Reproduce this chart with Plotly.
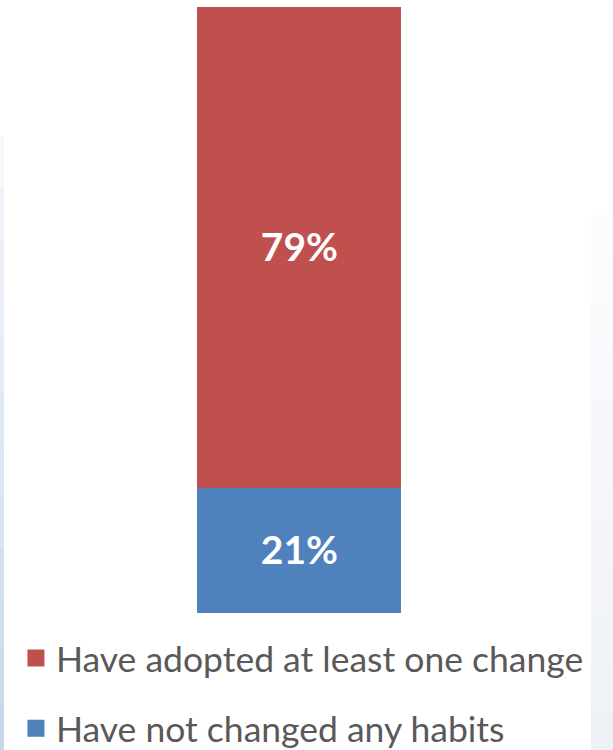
import plotly.graph_objects as go

categories = [""]
series_names = ["Have not changed any habits", "Have adopted at least one change"]
series_values = [[21], [79]]
series_labels = [["21%"], ["79%"]]
series_colors = ["#4F81BD", "#C0504D"]
legend_ranks = [2, 1]

fig = go.Figure()
for name, vals, labs, col, rank in zip(series_names, series_values, series_labels, series_colors, legend_ranks):
    fig.add_trace(go.Bar(
        x=categories, y=vals, name=name, text=labs,
        textposition="inside", insidetextanchor="middle",
        textfont=dict(family="Lato", size=39, color="white", weight="bold"),
        marker=dict(color=col, line=dict(width=5, color=col)),
        legendgroup=name, legendrank=rank, width=0.5,
    ))

W, H = 613, 750
TOP, BOT = 7, 613
fig.update_layout(
    width=W, height=H, barmode="stack", bargap=0,
    margin=dict(l=0, r=0, t=TOP, b=H - BOT, autoexpand=False),
    paper_bgcolor="white", plot_bgcolor="rgba(0,0,0,0)",
    xaxis=dict(visible=False, range=[-0.5, 0.5], domain=[0.1655, 0.8145]),
    yaxis=dict(visible=False, range=[0, 100]),
    showlegend=True,
    legend=dict(
        xref="container", yref="container",
        x=0.026, y=1 - 628.5 / H, xanchor="left", yanchor="top",
        orientation="v", traceorder="grouped", tracegroupgap=21,
        font=dict(family="Lato", size=35.5, color="#595959"),
        bgcolor="rgba(0,0,0,0)",
    ),
)


def py(p):
    return (BOT - p) / (BOT - TOP)


# subtle slide-background edges (decoration)
def hexmix(c1, c2, t):
    a = [int(c1[i:i + 2], 16) for i in (1, 3, 5)]
    b = [int(c2[i:i + 2], 16) for i in (1, 3, 5)]
    return "#" + "".join(f"{round(a[k] + (b[k] - a[k]) * t):02x}" for k in range(3))


n = 12
for k in range(n):
    y0p = 137 + (750 - 137) * k / n
    y1p = 137 + (750 - 137) * (k + 1) / n
    fig.add_shape(type="rect", xref="paper", yref="paper", x0=0, x1=4 / W,
                  y0=py(y1p), y1=py(y0p), fillcolor=hexmix("#f6f8fc", "#c6d6ea", (k + 0.5) / n),
                  line_width=0, layer="below")
    y0p = 215 + (750 - 215) * k / n
    y1p = 215 + (750 - 215) * (k + 1) / n
    fig.add_shape(type="rect", xref="paper", yref="paper", x0=591 / W, x1=1,
                  y0=py(y1p), y1=py(y0p), fillcolor=hexmix("#fdfdfe", "#edf0f6", (k + 0.5) / n),
                  line_width=0, layer="below")

fig.write_html("out.html", config={"displayModeBar": False},
               post_script="document.body.style.margin='0px';")
